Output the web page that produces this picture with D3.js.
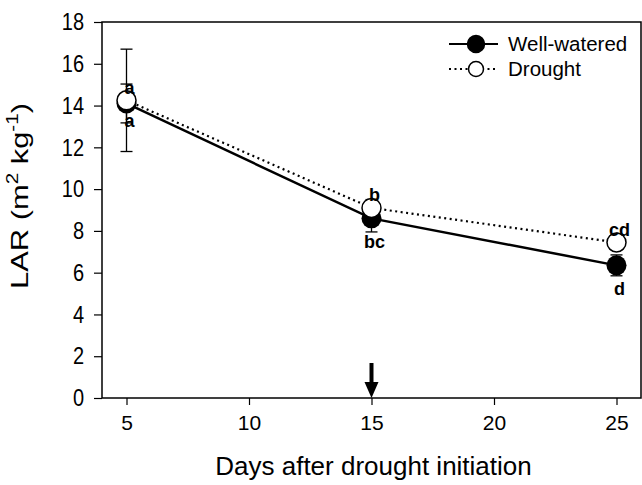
<!DOCTYPE html>
<html>
<head>
<meta charset="utf-8">
<script src="https://cdn.jsdelivr.net/npm/d3@7"></script>
<style>
  body { margin: 0; background: #fff; }
  text { font-family: "Liberation Sans", Arial, sans-serif; fill: #000; }
</style>
</head>
<body>
<svg id="chart"></svg>
<script>
const days = [5, 15, 25];
const wellWatered = [14.1, 8.6, 6.35];
const wellErr = [0.93, 0.65, 0.5];
const drought = [14.25, 9.1, 7.45];
const droughtErr = [2.45, 0.4, 0.35];
const wellLetters = ["a", "bc", "d"];
const droughtLetters = ["a", "b", "cd"];
const xTicks = [5, 10, 15, 20, 25];
const yTicks = [0, 2, 4, 6, 8, 10, 12, 14, 16, 18];
const arrowDay = 15;

const width = 642, height = 485;
const margin = {left: 102, right: 1, top: 22, bottom: 87};

const svg = d3.select("#chart").attr("width", width).attr("height", height);

const x = d3.scaleLinear().domain([4, 26]).range([margin.left, width - margin.right]);
const y = d3.scaleLinear().domain([0, 18]).range([height - margin.bottom, margin.top]);

// axes
svg.append("g")
    .attr("transform", `translate(0,${y(0)})`)
    .call(d3.axisBottom(x).tickValues(xTicks).tickSize(7).tickPadding(10))
    .call(g => g.select(".domain").remove())
    .call(g => g.selectAll("line").attr("stroke-width", 1.2))
    .call(g => g.selectAll("text").attr("font-size", 21));

svg.append("g")
    .attr("transform", `translate(${x(4)},0)`)
    .call(d3.axisLeft(y).tickValues(yTicks).tickSize(8).tickPadding(10))
    .call(g => g.select(".domain").remove())
    .call(g => g.selectAll("line").attr("stroke-width", 1.2))
    .call(g => g.selectAll("text").attr("font-size", 20).attr("transform", "scale(1,1.2)"));

// frame
svg.append("rect")
    .attr("x", x(4)).attr("y", y(18))
    .attr("width", x(26) - x(4)).attr("height", y(0) - y(18))
    .attr("fill", "none").attr("stroke", "#000").attr("stroke-width", 1.5);

// axis titles
svg.append("text")
    .attr("x", (x(4) + x(26)) / 2 + 2).attr("y", 475)
    .attr("text-anchor", "middle").attr("font-size", 26)
    .text("Days after drought initiation");

const yl = svg.append("text")
    .attr("transform", `translate(28,196) rotate(-90)`)
    .attr("text-anchor", "middle").attr("font-size", 24)
    .attr("textLength", 186).attr("lengthAdjust", "spacingAndGlyphs");
yl.append("tspan").text("LAR (m");
yl.append("tspan").attr("font-size", 16).attr("dy", -10).text("2");
yl.append("tspan").attr("dy", 10).text(" kg");
yl.append("tspan").attr("font-size", 16).attr("dy", -10).text("-1");
yl.append("tspan").attr("dy", 10).text(")");

// arrow
svg.append("line")
    .attr("x1", x(arrowDay)).attr("x2", x(arrowDay))
    .attr("y1", y(0) - 35).attr("y2", y(0) - 14)
    .attr("stroke", "#000").attr("stroke-width", 4);
svg.append("path")
    .attr("d", `M${x(arrowDay) - 7},${y(0) - 16} L${x(arrowDay) + 7},${y(0) - 16} L${x(arrowDay)},${y(0)} Z`)
    .attr("fill", "#000");

const line = d3.line().x(d => x(d[0])).y(d => y(d[1]));
const ww = days.map((d, i) => [d, wellWatered[i], wellErr[i]]);
const dr = days.map((d, i) => [d, drought[i], droughtErr[i]]);

svg.append("path").datum(dr).attr("d", line)
    .attr("fill", "none").attr("stroke", "#000").attr("stroke-width", 2.2)
    .attr("stroke-dasharray", "2,3.5");
svg.append("path").datum(ww).attr("d", line)
    .attr("fill", "none").attr("stroke", "#000").attr("stroke-width", 2.5);

// error bars
function errorBars(data) {
    const g = svg.append("g").attr("stroke", "#000").attr("stroke-width", 1.3);
    data.forEach(d => {
        const cx = x(d[0]);
        g.append("line").attr("x1", cx).attr("x2", cx).attr("y1", y(d[1] - d[2])).attr("y2", y(d[1] + d[2]));
        g.append("line").attr("x1", cx - 6).attr("x2", cx + 6).attr("y1", y(d[1] - d[2])).attr("y2", y(d[1] - d[2]));
        g.append("line").attr("x1", cx - 6).attr("x2", cx + 6).attr("y1", y(d[1] + d[2])).attr("y2", y(d[1] + d[2]));
    });
}
errorBars(dr);
errorBars(ww);

svg.selectAll(".ww").data(ww).enter().append("circle")
    .attr("cx", d => x(d[0])).attr("cy", d => y(d[1])).attr("r", 10)
    .attr("fill", "#000");
svg.selectAll(".dr").data(dr).enter().append("circle")
    .attr("cx", d => x(d[0])).attr("cy", d => y(d[1])).attr("r", 9.5)
    .attr("fill", "#fff").attr("stroke", "#000").attr("stroke-width", 1.5);

// significance letters
svg.selectAll(".lt-dr").data(dr).enter().append("text")
    .attr("x", d => x(d[0]) + 3).attr("y", d => y(d[1]) - 13)
    .attr("dy", "0.35em").attr("text-anchor", "middle")
    .attr("font-size", 18).attr("font-weight", "bold")
    .text((d, i) => droughtLetters[i]);
svg.selectAll(".lt-ww").data(ww).enter().append("text")
    .attr("x", d => x(d[0]) + 3).attr("y", (d, i) => y(d[1]) + (i === 0 ? 17 : 23))
    .attr("dy", "0.35em").attr("text-anchor", "middle")
    .attr("font-size", 18).attr("font-weight", "bold")
    .text((d, i) => wellLetters[i]);

// legend
const legend = [
    {label: "Well-watered", fill: "#000", dash: null, w: 2.2, r: 8.5},
    {label: "Drought", fill: "#fff", dash: "2,3.5", w: 2, r: 7.5}
];
const lg = svg.selectAll(".legend").data(legend).enter().append("g")
    .attr("transform", (d, i) => `translate(0,${44 + i * 25})`);
lg.append("line").attr("x1", 449).attr("x2", 498)
    .attr("stroke", "#000").attr("stroke-width", d => d.w)
    .attr("stroke-dasharray", d => d.dash);
lg.append("circle").attr("cx", 476).attr("r", d => d.r)
    .attr("fill", d => d.fill).attr("stroke", "#000").attr("stroke-width", 1.5);
lg.append("text").attr("x", 508).attr("dy", "0.35em").attr("font-size", 20.5)
    .text(d => d.label);
</script>
</body>
</html>
